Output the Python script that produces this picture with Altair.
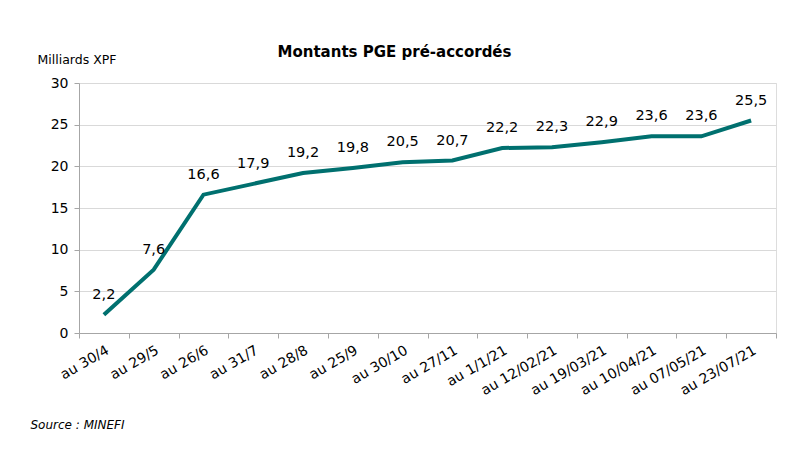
import altair as alt
import pandas as pd

categories = ["au 30/4", "au 29/5", "au 26/6", "au 31/7", "au 28/8", "au 25/9", "au 30/10",
              "au 27/11", "au 1/1/21", "au 12/02/21", "au 19/03/21", "au 10/04/21",
              "au 07/05/21", "au 23/07/21"]
values = [2.2, 7.6, 16.6, 17.9, 19.2, 19.8, 20.5, 20.7, 22.2, 22.3, 22.9, 23.6, 23.6, 25.5]

df = pd.DataFrame({"cat": categories, "val": values,
                   "lab": [f"{v:.1f}".replace(".", ",") for v in values]})

FONT = "DejaVu Sans"
TEAL = "#00706F"

x = alt.X("cat:N", sort=categories, bandPosition=0.5,
          scale=alt.Scale(type="band", paddingInner=0, paddingOuter=0),
          axis=alt.Axis(title="Source : MINEFI", titleFont=FONT, titleFontStyle="italic",
                        titleFontWeight="normal", titleFontSize=12, titleColor="#000",
                        titleX=-49, titleY=91, titleAlign="left", titleBaseline="middle",
                        titleAnchor="start",
                        labelAngle=-30, labelAlign="right", labelBaseline="top",
                        labelFont=FONT, labelFontSize=14, labelColor="#000",
                        labelPadding=5, tickBand="extent", grid=False,
                        domainColor="#a6a6a6", tickColor="#a6a6a6", tickSize=5))
y = alt.Y("val:Q", scale=alt.Scale(domain=[0, 30]),
          axis=alt.Axis(values=[0, 5, 10, 15, 20, 25, 30], title="Milliards XPF",
                        titleAngle=0, titleX=-42, titleY=-20, titleAlign="left",
                        titleBaseline="alphabetic", titleFont=FONT, titleFontSize=12.5,
                        titleFontWeight="normal", titleColor="#000",
                        labelFont=FONT, labelFontSize=14, labelColor="#000",
                        labelPadding=6, tickSize=5, tickColor="#a6a6a6",
                        domainColor="#a6a6a6", gridColor="#d9d9d9"))

line = alt.Chart(df).mark_line(color=TEAL, strokeWidth=4).encode(x=x, y=y)
text = alt.Chart(df).mark_text(font=FONT, fontSize=14.5, color="#000", baseline="bottom",
                               dy=-13).encode(x=x, y=y, text="lab:N")

chart = (line + text).properties(
    width=697, height=250,
    title=alt.TitleParams("Montants PGE pré-accordés", font=FONT, fontSize=15,
                          fontWeight="bold", color="#000", anchor="middle",
                          dx=-33, offset=-7),
    autosize=alt.AutoSizeParams(type="none"),
    padding={"left": 71, "top": 75, "right": 9, "bottom": 128},
).configure_view(stroke=None).configure(background="white")

chart.save("out.html", embed_options={"renderer": "svg", "actions": False})
